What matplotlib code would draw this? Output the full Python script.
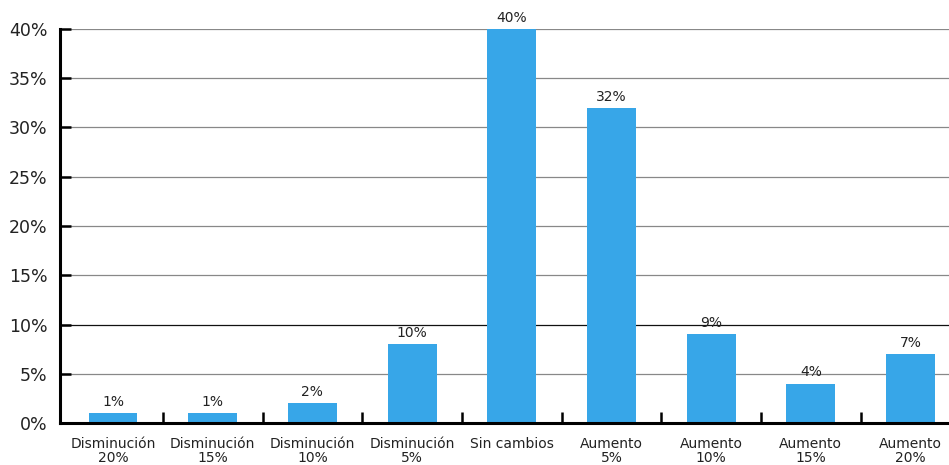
import matplotlib
matplotlib.use("Agg")
import matplotlib.pyplot as plt
import numpy as np

categories = ["Disminución\n20%", "Disminución\n15%", "Disminución\n10%", "Disminución\n5%",
              "Sin cambios", "Aumento\n5%", "Aumento\n10%", "Aumento\n15%", "Aumento\n20%"]
values = [1, 1, 2, 8, 40, 32, 9, 4, 7]
value_labels = ["1%", "1%", "2%", "10%", "40%", "32%", "9%", "4%", "7%"]
y_ticks = [0, 5, 10, 15, 20, 25, 30, 35, 40]
y_tick_labels = ["0%", "5%", "10%", "15%", "20%", "25%", "30%", "35%", "40%"]

plt.rcParams['font.family'] = ['DejaVu Sans']

fig = plt.figure(figsize=(9.49, 4.65), dpi=100)
ax = fig.add_axes([60/949, 1-423/465, 1-60/949, (423-29)/465])

x = np.arange(len(categories))
bars = ax.bar(x, values, width=0.49, color="#37a6e8", zorder=3)

for xi, v, lab in zip(x, values, value_labels):
    ax.annotate(lab, (xi, v), xytext=(0, 3), textcoords="offset points",
                ha="center", va="bottom", fontsize=10, color="#222222", zorder=4)

ax.set_xlim(-0.532, 8.386)
ax.set_ylim(0, 40)

# gridlines
for yt in y_ticks[1:]:
    col = "#111111" if yt == 10 else "#888888"
    ax.axhline(yt, color=col, lw=0.9, zorder=1)

ax.set_yticks(y_ticks)
ax.set_yticklabels(y_tick_labels)
ax.tick_params(axis="y", direction="in", length=8, width=1.8, pad=9,
               labelsize=12.5, labelcolor="#222222", color="black")

ax.set_xticks(x)
ax.set_xticklabels(categories)
ax.tick_params(axis="x", which="major", length=0, pad=10, labelsize=10, labelcolor="#222222")
for t in ax.get_xticklabels():
    t.set_linespacing(1.05)
ax.set_xticks(x[:-1] + 0.5, minor=True)
ax.tick_params(axis="x", which="minor", direction="in", length=8, width=1.8, color="black")

for s in ["top", "right"]:
    ax.spines[s].set_visible(False)
for s in ["left", "bottom"]:
    ax.spines[s].set_linewidth(2.2)
    ax.spines[s].set_color("black")
    ax.spines[s].set_zorder(5)

fig.savefig("out.png", dpi=100)
